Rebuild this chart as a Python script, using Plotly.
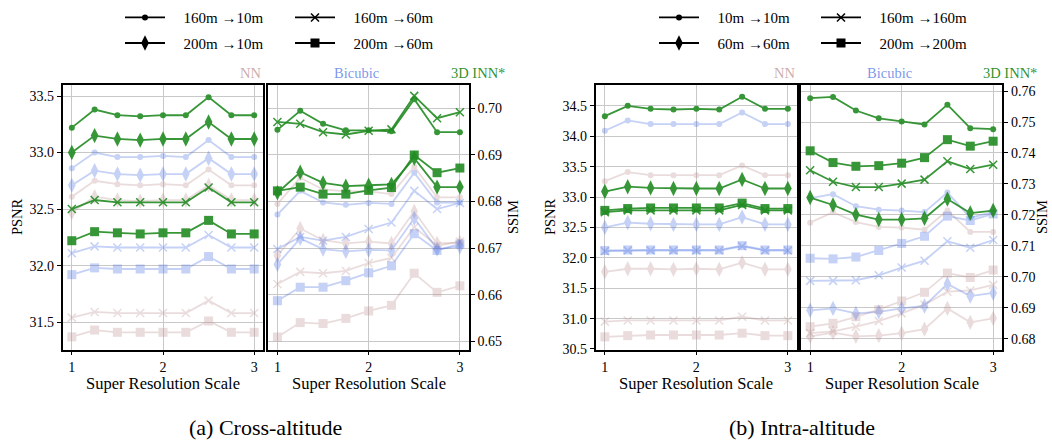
import plotly.graph_objects as go

W, H = 1052, 444

scale = [1, 1.25, 1.5, 1.75, 2, 2.25, 2.5, 2.75, 3]

# ---------------- (a) Cross-altitude : PSNR ----------------
a_psnr_inn_160_10 = [33.22, 33.38, 33.33, 33.32, 33.33, 33.33, 33.49, 33.33, 33.33]
a_psnr_inn_200_10 = [33.00, 33.15, 33.12, 33.11, 33.12, 33.12, 33.27, 33.12, 33.12]
a_psnr_inn_160_60 = [32.50, 32.58, 32.56, 32.56, 32.56, 32.56, 32.69, 32.56, 32.56]
a_psnr_inn_200_60 = [32.22, 32.30, 32.29, 32.28, 32.29, 32.29, 32.40, 32.28, 32.28]
a_psnr_bic_160_10 = [32.86, 33.00, 32.96, 32.96, 32.97, 32.96, 33.11, 32.96, 32.96]
a_psnr_bic_200_10 = [32.71, 32.84, 32.81, 32.80, 32.81, 32.81, 32.95, 32.81, 32.81]
a_psnr_bic_160_60 = [32.11, 32.17, 32.16, 32.16, 32.16, 32.16, 32.27, 32.16, 32.16]
a_psnr_bic_200_60 = [31.92, 31.98, 31.97, 31.97, 31.97, 31.97, 32.08, 31.97, 31.97]
a_psnr_nn_160_10 = [32.61, 32.75, 32.72, 32.71, 32.72, 32.71, 32.85, 32.71, 32.71]
a_psnr_nn_200_10 = [32.47, 32.61, 32.58, 32.57, 32.58, 32.58, 32.71, 32.58, 32.58]
a_psnr_nn_160_60 = [31.54, 31.59, 31.58, 31.58, 31.58, 31.58, 31.69, 31.58, 31.58]
a_psnr_nn_200_60 = [31.37, 31.43, 31.41, 31.41, 31.41, 31.41, 31.51, 31.41, 31.41]

# ---------------- (a) Cross-altitude : SSIM ----------------
a_ssim_inn_160_10 = [0.6954, 0.6995, 0.6967, 0.6953, 0.6953, 0.6951, 0.7020, 0.6949, 0.6949]
a_ssim_inn_200_10 = [0.6819, 0.6863, 0.6840, 0.6833, 0.6835, 0.6837, 0.6893, 0.6831, 0.6831]
a_ssim_inn_160_60 = [0.6971, 0.6967, 0.6949, 0.6944, 0.6952, 0.6955, 0.7027, 0.6979, 0.6992]
a_ssim_inn_200_60 = [0.6823, 0.6831, 0.6816, 0.6816, 0.6824, 0.6830, 0.6900, 0.6862, 0.6872]
a_ssim_bic_160_10 = [0.6772, 0.6823, 0.6798, 0.6793, 0.6797, 0.6795, 0.6862, 0.6798, 0.6798]
a_ssim_bic_200_10 = [0.6665, 0.6721, 0.6698, 0.6693, 0.6696, 0.6695, 0.6764, 0.6698, 0.6703]
a_ssim_bic_160_60 = [0.6698, 0.6724, 0.6716, 0.6724, 0.6741, 0.6755, 0.6823, 0.6784, 0.6797]
a_ssim_bic_200_60 = [0.6587, 0.6616, 0.6616, 0.6630, 0.6647, 0.6662, 0.6731, 0.6695, 0.6709]
a_ssim_nn_160_10 = [0.6795, 0.6851, 0.6826, 0.6822, 0.6822, 0.6816, 0.6875, 0.6809, 0.6809]
a_ssim_nn_200_10 = [0.6684, 0.6742, 0.6717, 0.6710, 0.6714, 0.6710, 0.6779, 0.6710, 0.6712]
a_ssim_nn_160_60 = [0.6623, 0.6649, 0.6646, 0.6651, 0.6668, 0.6679, 0.6745, 0.6705, 0.6714]
a_ssim_nn_200_60 = [0.6509, 0.6540, 0.6538, 0.6549, 0.6565, 0.6577, 0.6646, 0.6605, 0.6619]

# ---------------- (b) Intra-altitude : PSNR ----------------
b_psnr_inn_10_10 = [34.33, 34.50, 34.45, 34.44, 34.45, 34.44, 34.65, 34.45, 34.45]
b_psnr_inn_60_60 = [33.09, 33.17, 33.15, 33.14, 33.14, 33.14, 33.29, 33.14, 33.14]
b_psnr_inn_160_160 = [32.75, 32.78, 32.78, 32.78, 32.78, 32.78, 32.87, 32.78, 32.78]
b_psnr_inn_200_200 = [32.78, 32.81, 32.82, 32.82, 32.82, 32.82, 32.90, 32.81, 32.81]
b_psnr_bic_10_10 = [34.09, 34.26, 34.20, 34.20, 34.20, 34.20, 34.39, 34.20, 34.20]
b_psnr_bic_60_60 = [32.50, 32.58, 32.56, 32.55, 32.55, 32.55, 32.67, 32.55, 32.55]
b_psnr_bic_160_160 = [32.11, 32.12, 32.12, 32.12, 32.12, 32.12, 32.19, 32.12, 32.12]
b_psnr_bic_200_200 = [32.12, 32.13, 32.13, 32.13, 32.13, 32.13, 32.20, 32.13, 32.13]
b_psnr_nn_10_10 = [33.26, 33.41, 33.36, 33.36, 33.36, 33.36, 33.52, 33.36, 33.36]
b_psnr_nn_60_60 = [31.77, 31.82, 31.82, 31.81, 31.82, 31.81, 31.92, 31.81, 31.81]
b_psnr_nn_160_160 = [30.95, 30.97, 30.97, 30.97, 30.97, 30.97, 31.03, 30.97, 30.97]
b_psnr_nn_200_200 = [30.70, 30.72, 30.73, 30.73, 30.73, 30.73, 30.76, 30.72, 30.72]

# ---------------- (b) Intra-altitude : SSIM ----------------
b_ssim_inn_10_10 = [0.7577, 0.7581, 0.7537, 0.7512, 0.7502, 0.7492, 0.7556, 0.7480, 0.7477]
b_ssim_inn_60_60 = [0.7256, 0.7232, 0.7201, 0.7185, 0.7185, 0.7189, 0.7251, 0.7206, 0.7214]
b_ssim_inn_160_160 = [0.7344, 0.7307, 0.7290, 0.7290, 0.7301, 0.7314, 0.7373, 0.7348, 0.7362]
b_ssim_inn_200_200 = [0.7407, 0.7369, 0.7357, 0.7359, 0.7367, 0.7385, 0.7443, 0.7422, 0.7438]
b_ssim_bic_10_10 = [0.7254, 0.7267, 0.7228, 0.7217, 0.7214, 0.7209, 0.7272, 0.7191, 0.7209]
b_ssim_bic_60_60 = [0.6892, 0.6898, 0.6882, 0.6887, 0.6898, 0.6906, 0.6977, 0.6938, 0.6948]
b_ssim_bic_160_160 = [0.6987, 0.6987, 0.6989, 0.7005, 0.7030, 0.7052, 0.7115, 0.7094, 0.7119]
b_ssim_bic_200_200 = [0.7060, 0.7058, 0.7064, 0.7085, 0.7108, 0.7131, 0.7196, 0.7182, 0.7203]
b_ssim_nn_10_10 = [0.7175, 0.7209, 0.7177, 0.7161, 0.7159, 0.7152, 0.7214, 0.7145, 0.7145]
b_ssim_nn_60_60 = [0.6808, 0.6820, 0.6808, 0.6810, 0.6818, 0.6831, 0.6898, 0.6853, 0.6866]
b_ssim_nn_160_160 = [0.6818, 0.6824, 0.6839, 0.6857, 0.6882, 0.6910, 0.6952, 0.6956, 0.6974]
b_ssim_nn_200_200 = [0.6839, 0.6850, 0.6871, 0.6894, 0.6922, 0.6950, 0.7012, 0.6998, 0.7022]

legend_a = ["160m \u219210m", "160m \u219260m", "200m \u219210m", "200m \u219260m"]
legend_b = ["10m \u219210m", "160m \u2192160m", "60m \u219260m", "200m \u2192200m"]

a_psnr_ticks = [31.5, 32.0, 32.5, 33.0, 33.5]
a_ssim_ticks = [0.65, 0.66, 0.67, 0.68, 0.69, 0.70]
b_psnr_ticks = [30.5, 31.0, 31.5, 32.0, 32.5, 33.0, 33.5, 34.0, 34.5]
b_ssim_ticks = [0.68, 0.69, 0.70, 0.71, 0.72, 0.73, 0.74, 0.75, 0.76]
x_ticks = [1, 2, 3]

FONT = "Liberation Serif, Times New Roman, Tinos, DejaVu Serif, serif"
C_NN = "#bc8f8f"
C_BIC = "#4169e1"
C_INN = "#228b22"
OP = {C_NN: 0.3, C_BIC: 0.3, C_INN: 0.9}

MK = {
    "o": dict(symbol="circle", size=6),
    "d": dict(symbol="diamond-tall", size=11),
    "x": dict(symbol="x-thin", size=8),
    "s": dict(symbol="square", size=9),
}

fig = go.Figure()


def add(xa, ya, y, color, m):
    spec = MK[m]
    fig.add_trace(go.Scatter(
        x=scale, y=y, xaxis=xa, yaxis=ya, mode="lines+markers",
        line=dict(color=color, width=1.8),
        marker=dict(symbol=spec["symbol"], size=spec["size"], color=color,
                    line=dict(width=1.5 if m == "x" else 0, color=color)),
        opacity=OP[color], showlegend=False, hoverinfo="skip"))


# (a) PSNR
for ser, m in [(a_psnr_nn_160_10, "o"), (a_psnr_nn_200_10, "d"), (a_psnr_nn_160_60, "x"), (a_psnr_nn_200_60, "s")]:
    add("x", "y", ser, C_NN, m)
for ser, m in [(a_psnr_bic_160_10, "o"), (a_psnr_bic_200_10, "d"), (a_psnr_bic_160_60, "x"), (a_psnr_bic_200_60, "s")]:
    add("x", "y", ser, C_BIC, m)
for ser, m in [(a_psnr_inn_160_10, "o"), (a_psnr_inn_200_10, "d"), (a_psnr_inn_160_60, "x"), (a_psnr_inn_200_60, "s")]:
    add("x", "y", ser, C_INN, m)
# (a) SSIM
for ser, m in [(a_ssim_nn_160_10, "o"), (a_ssim_nn_200_10, "d"), (a_ssim_nn_160_60, "x"), (a_ssim_nn_200_60, "s")]:
    add("x2", "y2", ser, C_NN, m)
for ser, m in [(a_ssim_bic_160_10, "o"), (a_ssim_bic_200_10, "d"), (a_ssim_bic_160_60, "x"), (a_ssim_bic_200_60, "s")]:
    add("x2", "y2", ser, C_BIC, m)
for ser, m in [(a_ssim_inn_160_10, "o"), (a_ssim_inn_200_10, "d"), (a_ssim_inn_160_60, "x"), (a_ssim_inn_200_60, "s")]:
    add("x2", "y2", ser, C_INN, m)
# (b) PSNR
for ser, m in [(b_psnr_nn_10_10, "o"), (b_psnr_nn_60_60, "d"), (b_psnr_nn_160_160, "x"), (b_psnr_nn_200_200, "s")]:
    add("x3", "y3", ser, C_NN, m)
for ser, m in [(b_psnr_bic_10_10, "o"), (b_psnr_bic_60_60, "d"), (b_psnr_bic_160_160, "x"), (b_psnr_bic_200_200, "s")]:
    add("x3", "y3", ser, C_BIC, m)
for ser, m in [(b_psnr_inn_10_10, "o"), (b_psnr_inn_60_60, "d"), (b_psnr_inn_160_160, "x"), (b_psnr_inn_200_200, "s")]:
    add("x3", "y3", ser, C_INN, m)
# (b) SSIM
for ser, m in [(b_ssim_nn_10_10, "o"), (b_ssim_nn_60_60, "d"), (b_ssim_nn_160_160, "x"), (b_ssim_nn_200_200, "s")]:
    add("x4", "y4", ser, C_NN, m)
for ser, m in [(b_ssim_bic_10_10, "o"), (b_ssim_bic_60_60, "d"), (b_ssim_bic_160_160, "x"), (b_ssim_bic_200_200, "s")]:
    add("x4", "y4", ser, C_BIC, m)
for ser, m in [(b_ssim_inn_10_10, "o"), (b_ssim_inn_60_60, "d"), (b_ssim_inn_160_160, "x"), (b_ssim_inn_200_200, "s")]:
    add("x4", "y4", ser, C_INN, m)

GAP = "\u2002\u2009\u2009"  # extra gap between legend sample and its label


# legend entries (black samples)
def leg(name, m, legend):
    spec = MK[m]
    fig.add_trace(go.Scatter(
        x=[None], y=[None], xaxis="x", yaxis="y", mode="lines+markers", name=GAP + name,
        line=dict(color="black", width=1.8),
        marker=dict(symbol=spec["symbol"], size=spec["size"], color="black",
                    line=dict(width=1.5 if m == "x" else 0, color="black")),
        showlegend=True, legend=legend))

leg(legend_a[0], "o", "legend")
leg(legend_a[1], "x", "legend")
leg(legend_a[2], "d", "legend2")
leg(legend_a[3], "s", "legend2")
leg(legend_b[0], "o", "legend3")
leg(legend_b[1], "x", "legend3")
leg(legend_b[2], "d", "legend4")
leg(legend_b[3], "s", "legend4")


def px(v):
    return v / W


def py(v):
    return 1 - v / H


Y_DOM = [py(355), py(85.7)]
axis_common = dict(showgrid=True, gridcolor="#c8c8c8", gridwidth=1.2, showline=True,
                   linecolor="black", linewidth=1.6, mirror=True, ticks="outside",
                   ticklen=4, tickwidth=1, tickcolor="black", zeroline=False,
                   tickfont=dict(family=FONT, size=14, color="black"))

lay = dict(
    width=W, height=H, margin=dict(l=0, r=0, t=0, b=0),
    plot_bgcolor="white", paper_bgcolor="white",
    font=dict(family=FONT, size=14, color="black"),
    xaxis=dict(domain=[px(62.7), px(263.3)], range=[0.9, 3.1], tickvals=x_ticks, anchor="y", **axis_common),
    yaxis=dict(domain=Y_DOM, range=[31.257, 33.596], tickvals=a_psnr_ticks, tickformat=".1f", anchor="x", **axis_common),
    xaxis2=dict(domain=[px(268.3), px(469)], range=[0.9, 3.1], tickvals=x_ticks, anchor="y2", **axis_common),
    yaxis2=dict(domain=Y_DOM, range=[0.6482, 0.7050], tickvals=a_ssim_ticks, tickformat=".2f", anchor="x2", side="right", **axis_common),
    xaxis3=dict(domain=[px(595.7), px(797)], range=[0.9, 3.1], tickvals=x_ticks, anchor="y3", **axis_common),
    yaxis3=dict(domain=Y_DOM, range=[30.49, 34.84], tickvals=b_psnr_ticks, tickformat=".1f", anchor="x3", **axis_common),
    xaxis4=dict(domain=[px(801), px(1002.3)], range=[0.9, 3.1], tickvals=x_ticks, anchor="y4", **axis_common),
    yaxis4=dict(domain=Y_DOM, range=[0.6765, 0.7619], tickvals=b_ssim_ticks, tickformat=".2f", anchor="x4", side="right", **axis_common),
)

leg_common = dict(orientation="h", xanchor="left", yanchor="middle", bgcolor="rgba(0,0,0,0)",
                  font=dict(family=FONT, size=15, color="black"), entrywidthmode="pixels",
                  itemwidth=40, itemclick=False, itemdoubleclick=False)
lay["legend"] = dict(x=px(120), y=py(17), entrywidth=115, **leg_common)
lay["legend2"] = dict(x=px(120), y=py(43), entrywidth=115, **leg_common)
lay["legend3"] = dict(x=px(654), y=py(17), entrywidth=107, **leg_common)
lay["legend4"] = dict(x=px(654), y=py(43), entrywidth=107, **leg_common)

fig.update_layout(**lay)

ann = []

def text(x, y, s, size, color="black", xanchor="center", angle=0):
    ann.append(dict(x=px(x), y=py(y), xref="paper", yref="paper", text=s, showarrow=False,
                    xanchor=xanchor, yanchor="middle", textangle=angle,
                    font=dict(family=FONT, size=size, color=color)))

# method labels
for nn_r, bic_c, inn_c in [(263, 356, 478), (797, 889, 1010)]:
    text(nn_r, 73, "NN", 14.5, "rgba(188,143,143,0.75)", xanchor="right")
    text(bic_c, 73, "Bicubic", 14.5, "rgba(65,105,225,0.7)")
    text(inn_c, 73, "3D INN*", 14.5, "rgba(34,139,34,0.95)")

# axis titles
text(17, 220, "PSNR", 14.5, angle=-90)
text(513, 220, "SSIM", 14.5, angle=-90)
text(550, 220, "PSNR", 14.5, angle=-90)
text(1042, 220, "SSIM", 14.5, angle=-90)
for cx in [163, 368.6, 696.3, 901.7]:
    text(cx, 390, "Super Resolution Scale", 16.5)

# captions
text(265, 434, "(a) Cross-altitude", 22)
text(802, 434, "(b) Intra-altitude", 22)

fig.update_layout(annotations=ann)
fig.write_html("out.html")
